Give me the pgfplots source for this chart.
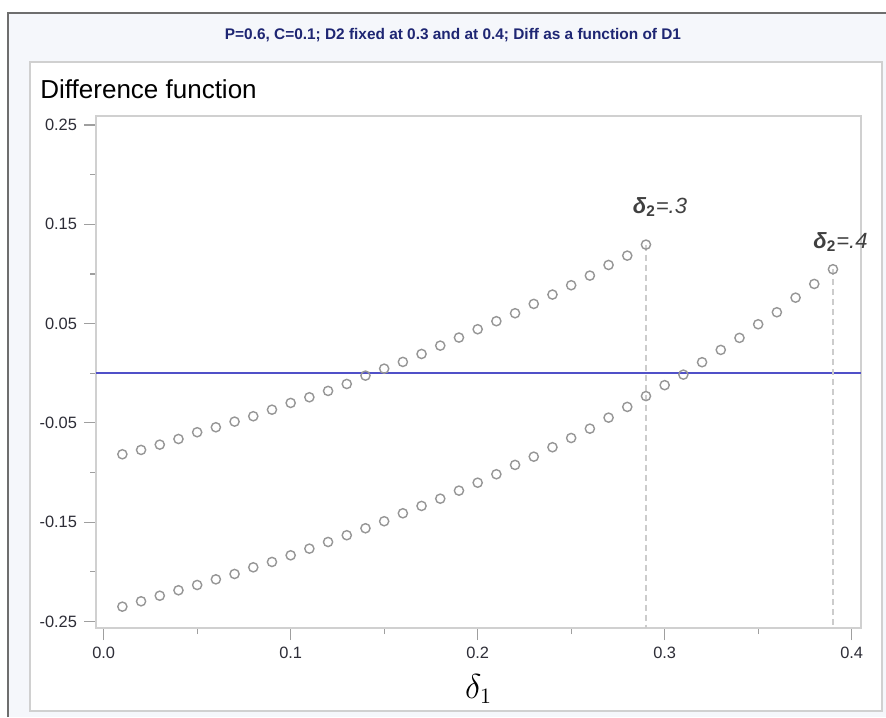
\documentclass[border=0pt]{standalone}
\usepackage{pgfplots}
\pgfplotsset{compat=1.18}
\usepackage{pgfplotstable}
\usepackage{fontspec}
\setmainfont{Liberation Sans}
\definecolor{titleblue}{RGB}{30,38,115}
\definecolor{framegray}{RGB}{208,208,208}
\definecolor{markgray}{RGB}{150,150,150}
\definecolor{zeroblue}{RGB}{80,80,200}
\definecolor{ticktext}{RGB}{45,45,55}
\definecolor{bgtint}{RGB}{245,247,251}
\definecolor{bordergray}{RGB}{110,110,110}

\pgfplotstableread{
x y
0.01 -0.0816
0.02 -0.0772
0.03 -0.0719
0.04 -0.0662
0.05 -0.0594
0.06 -0.0544
0.07 -0.0487
0.08 -0.0433
0.09 -0.0367
0.10 -0.0299
0.11 -0.0242
0.12 -0.0178
0.13 -0.0108
0.14 -0.0024
0.15 0.0046
0.16 0.0114
0.17 0.0194
0.18 0.0278
0.19 0.0359
0.20 0.0443
0.21 0.0524
0.22 0.0604
0.23 0.0698
0.24 0.0792
0.25 0.0886
0.26 0.0983
0.27 0.1090
0.28 0.1184
0.29 0.1295
}\seriesA

\pgfplotstableread{
x y
0.01 -0.2350
0.02 -0.2296
0.03 -0.2240
0.04 -0.2185
0.05 -0.2132
0.06 -0.2075
0.07 -0.2021
0.08 -0.1954
0.09 -0.1900
0.10 -0.1833
0.11 -0.1766
0.12 -0.1699
0.13 -0.1631
0.14 -0.1561
0.15 -0.1490
0.16 -0.1410
0.17 -0.1336
0.18 -0.1263
0.19 -0.1182
0.20 -0.1102
0.21 -0.1017
0.22 -0.0923
0.23 -0.0840
0.24 -0.0745
0.25 -0.0652
0.26 -0.0558
0.27 -0.0447
0.28 -0.0339
0.29 -0.0230
0.30 -0.0120
0.31 -0.0014
0.32 0.0111
0.33 0.0235
0.34 0.0356
0.35 0.0493
0.36 0.0614
0.37 0.0761
0.38 0.0899
0.39 0.1047
}\seriesB

\begin{document}
\begin{tikzpicture}[x=0.5pt,y=0.5pt]
\useasboundingbox (0,0) rectangle (886,717);
\fill[white] (0,0) rectangle (886,717);
\fill[bgtint] (8,0) rectangle (886,704);
\draw[bordergray, line width=1.2pt] (8,0) -- (8,704) -- (886,704);
\filldraw[fill=white, draw=framegray, line width=0.6pt] (30,6) rectangle (882,655);
\node[font=\fontsize{7.7}{9}\selectfont\bfseries, text=titleblue] at (453,682) {P=0.6, C=0.1; D2 fixed at 0.3 and at 0.4; Diff as a function of D1};
\node[anchor=base west, font=\fontsize{13}{15}\selectfont, inner sep=0pt] at (40,618) {Difference function};

\begin{axis}[
  at={(48pt,44.5pt)}, anchor=south west,
  scale only axis, width=382.5pt, height=256pt,
  xmin=-0.0041, xmax=0.405, ymin=-0.2565, ymax=0.259,
  axis line style={framegray, line width=0.6pt},
  tick style={color=gray!75, line width=0.6pt},
  tick align=outside, xtick pos=bottom, ytick pos=left,
  major tick length=6pt, minor tick length=3pt,
  xtick={0,0.1,0.2,0.3,0.4}, xticklabels={0.0,0.1,0.2,0.3,0.4},
  minor xtick={0.05,0.15,0.25,0.35},
  ytick={-0.25,-0.15,-0.05,0.05,0.15,0.25},
  yticklabels={-0.25,-0.15,-0.05,0.05,0.15,0.25},
  minor ytick={-0.2,-0.1,0,0.1,0.2},
  ticklabel style={font=\fontsize{8.2}{9}\selectfont, text=ticktext},
  xlabel={$\delta_1$},
  xlabel style={font=\fontsize{16}{18}\selectfont, yshift=-1pt},
  clip=false,
]
\addplot[zeroblue, line width=0.9pt] coordinates {(-0.0041,0) (0.405,0)};
\addplot[gray!40, dash pattern=on 3pt off 2pt, line width=0.6pt] coordinates {(0.29,0.1295) (0.29,-0.2565)};
\addplot[gray!40, dash pattern=on 3pt off 2pt, line width=0.6pt] coordinates {(0.39,0.1047) (0.39,-0.2565)};
\addplot[only marks, mark=o, mark size=2.3pt, markgray, mark options={line width=0.7pt}] table {\seriesA};
\addplot[only marks, mark=o, mark size=2.3pt, markgray, mark options={line width=0.7pt}] table {\seriesB};
\node[font=\fontsize{11}{13}\selectfont, text=black!75] at (axis cs:0.2975,0.1675) {{\bfseries\itshape δ}\textsubscript{\bfseries 2}{\itshape =.3}};
\node[font=\fontsize{11}{13}\selectfont, text=black!75] at (axis cs:0.394,0.132) {{\bfseries\itshape δ}\textsubscript{\bfseries 2}{\itshape =.4}};
\end{axis}
\end{tikzpicture}
\end{document}
